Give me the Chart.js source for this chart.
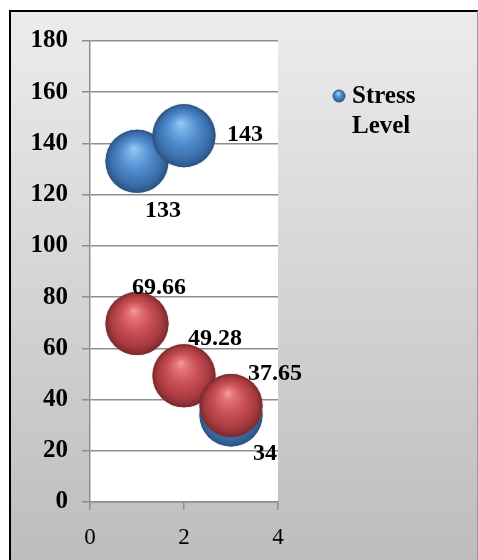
<!DOCTYPE html>
<html>
<head>
<meta charset="utf-8">
<script src="https://cdn.jsdelivr.net/npm/chart.js@4.4.1/dist/chart.umd.min.js"></script>
<style>
  html, body { margin: 0; padding: 0; background: #ffffff; }
  #chart { display: block; }
</style>
</head>
<body>
<canvas id="chart" width="478" height="560"></canvas>
<script>
// Series data
const xValues = [1, 2, 3];
const stressLevel = [133, 143, 34];
const secondSeries = [69.66, 49.28, 37.65];
const seriesName = 'Stress Level';

// Axis ranges / tick steps
const yRange = [0, 180];
const yStep = 20;
const xRange = [0, 4];
const xStep = 2;

// Value-label offsets (px) from each bubble centre
const stressLabelOffsets = [[26, 49], [61, -1], [34, 39]];
const secondLabelOffsets = [[22, -36], [31, -37], [44, -32]];

const SERIF = '"Liberation Serif", "Times New Roman", serif';
const GRID = '#8e8e8e';

const palettes = {
  blue: { base: '#4a86c8', stops: ['#9ccdf5', '#78b2e6', '#4f8bcd', '#3a6ea9', '#2a5283'] },
  red:  { base: '#c44b50', stops: ['#f59ca2', '#e47378', '#c84f54', '#a63a3f', '#7a2a2e'] }
};

function toPoints(xs, ys) {
  return xs.map((x, i) => ({ x: x, y: ys[i] }));
}

function drawSphere(ctx, x, y, r, pal) {
  const g = ctx.createRadialGradient(x - 0.1 * r, y - 0.42 * r, 0, x, y, r);
  g.addColorStop(0, pal.stops[0]);
  g.addColorStop(0.18, pal.stops[1]);
  g.addColorStop(0.5, pal.stops[2]);
  g.addColorStop(0.82, pal.stops[3]);
  g.addColorStop(1, pal.stops[4]);
  ctx.save();
  ctx.beginPath();
  ctx.arc(x, y, r, 0, Math.PI * 2);
  ctx.fillStyle = g;
  ctx.shadowColor = 'rgba(0,0,0,0.25)';
  ctx.shadowBlur = 2;
  ctx.fill();
  ctx.restore();
}

// Frame, panel gradient and white plot area
const framePlugin = {
  id: 'frame',
  beforeDraw(chart) {
    const { ctx, width, height, chartArea } = chart;
    ctx.save();
    ctx.fillStyle = '#ffffff';
    ctx.fillRect(0, 0, width, height);
    const g = ctx.createLinearGradient(0, 11, 0, height);
    g.addColorStop(0, '#ececec');
    g.addColorStop(1, '#bdbdbd');
    ctx.fillStyle = g;
    ctx.fillRect(10, 11, width - 10, height - 11);
    ctx.strokeStyle = '#000000';
    ctx.lineWidth = 2;
    ctx.beginPath();
    ctx.moveTo(10, height);
    ctx.lineTo(10, 11);
    ctx.lineTo(width, 11);
    ctx.stroke();
    ctx.strokeStyle = '#9a9a9a';
    ctx.lineWidth = 1;
    ctx.beginPath();
    ctx.moveTo(width - 0.5, 11);
    ctx.lineTo(width - 0.5, height);
    ctx.stroke();
    ctx.fillStyle = '#ffffff';
    ctx.fillRect(chartArea.left, chartArea.top, chartArea.right - chartArea.left, chartArea.bottom - chartArea.top);
    ctx.restore();
  }
};

// Shaded spheres over each bubble
const spherePlugin = {
  id: 'spheres',
  afterDatasetDraw(chart, args) {
    const ds = chart.data.datasets[args.index];
    const pal = palettes[ds.sphere];
    const ctx = chart.ctx;
    args.meta.data.forEach(el => {
      const p = el.getProps(['x', 'y'], true);
      drawSphere(ctx, p.x, p.y, el.options.radius, pal);
    });
  }
};

// Value labels beside each bubble
const valueLabelPlugin = {
  id: 'valueLabels',
  afterDatasetsDraw(chart) {
    const ctx = chart.ctx;
    ctx.save();
    ctx.font = 'bold 24px ' + SERIF;
    ctx.fillStyle = '#000000';
    ctx.textAlign = 'center';
    ctx.textBaseline = 'middle';
    chart.data.datasets.forEach((ds, di) => {
      const meta = chart.getDatasetMeta(di);
      meta.data.forEach((el, i) => {
        const p = el.getProps(['x', 'y'], true);
        const off = ds.labelOffsets[i];
        ctx.fillText(String(ds.data[i].y), p.x + off[0], p.y + off[1]);
      });
    });
    ctx.restore();
  }
};

// Legend entry on the right
const legendPlugin = {
  id: 'sideLegend',
  afterDraw(chart) {
    const ctx = chart.ctx;
    const cx = chart.chartArea.right + 61;
    const cy = 96;
    ctx.save();
    const r = 6.5;
    const g = ctx.createRadialGradient(cx - 1, cy - 3, 0, cx, cy, r);
    g.addColorStop(0, '#a6d6fb');
    g.addColorStop(0.5, '#4f8bcd');
    g.addColorStop(1, '#2c5688');
    ctx.fillStyle = g;
    ctx.beginPath();
    ctx.arc(cx, cy, r, 0, Math.PI * 2);
    ctx.fill();
    ctx.font = 'bold 25px ' + SERIF;
    ctx.fillStyle = '#000000';
    ctx.textAlign = 'left';
    ctx.textBaseline = 'alphabetic';
    seriesName.split(' ').forEach((line, i) => {
      ctx.fillText(line, cx + 13, 103 + i * 30);
    });
    ctx.restore();
  }
};

new Chart(document.getElementById('chart'), {
  type: 'bubble',
  data: {
    datasets: [
      {
        label: seriesName,
        data: toPoints(xValues, stressLevel),
        sphere: 'blue',
        labelOffsets: stressLabelOffsets,
        backgroundColor: palettes.blue.base,
        borderWidth: 0,
        radius: 31.5,
        order: 1
      },
      {
        label: '',
        data: toPoints(xValues, secondSeries),
        sphere: 'red',
        labelOffsets: secondLabelOffsets,
        backgroundColor: palettes.red.base,
        borderWidth: 0,
        radius: 31.5,
        order: 0
      }
    ]
  },
  options: {
    responsive: false,
    animation: false,
    layout: { padding: { left: 0, top: 41, right: 200, bottom: 0 } },
    plugins: {
      legend: { display: false },
      tooltip: { enabled: false }
    },
    scales: {
      x: {
        type: 'linear',
        position: 'bottom',
        min: xRange[0],
        max: xRange[1],
        afterFit(scale) { scale.height = 58; },
        ticks: {
          stepSize: xStep,
          color: '#000000',
          padding: 14,
          font: { family: SERIF, size: 23 }
        },
        grid: {
          drawOnChartArea: false,
          drawTicks: true,
          tickLength: 8,
          color: GRID,
          lineWidth: 1.5
        },
        border: { display: true, color: GRID, width: 1.5 }
      },
      y: {
        type: 'linear',
        min: yRange[0],
        max: yRange[1],
        afterFit(scale) { scale.width = 90; },
        ticks: {
          stepSize: yStep,
          color: '#000000',
          padding: 14,
          font: { family: SERIF, size: 25, weight: 'bold' }
        },
        grid: {
          color: GRID,
          lineWidth: 1.5,
          tickLength: 8
        },
        border: { display: true, color: GRID, width: 1.5 }
      }
    }
  },
  plugins: [framePlugin, spherePlugin, valueLabelPlugin, legendPlugin]
});
</script>
</body>
</html>
